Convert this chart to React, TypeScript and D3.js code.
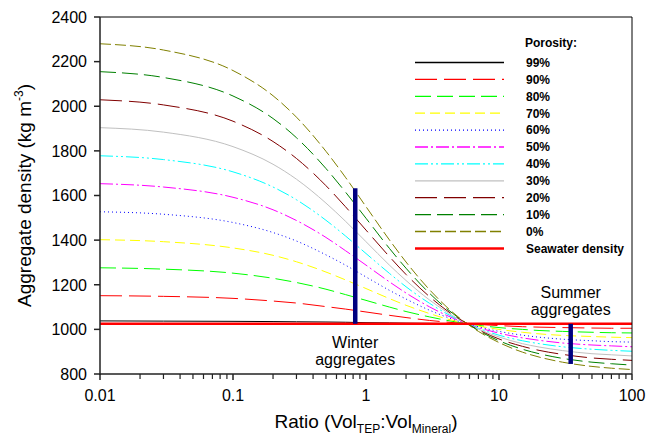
import React from "react";
import * as d3 from "d3";

// ---- Data ----
const ratios = [0.01, 0.03, 0.1, 0.2, 0.3, 0.5, 0.7, 1, 1.5, 2, 3, 4, 5, 7, 10, 15, 20, 30, 50, 70, 100];

const dens99 = [1038, 1037, 1036, 1035, 1034, 1033, 1032, 1030, 1029, 1028, 1027, 1026, 1025, 1025, 1024, 1024, 1024, 1023, 1023, 1023, 1023];
const dens90 = [1151, 1148, 1139, 1127, 1118, 1102, 1091, 1078, 1063, 1053, 1040, 1033, 1028, 1022, 1017, 1012, 1010, 1008, 1006, 1005, 1005];
const dens80 = [1276, 1270, 1252, 1229, 1210, 1180, 1156, 1130, 1100, 1080, 1056, 1041, 1031, 1018, 1008, 1000, 995, 991, 987, 985, 984];
const dens70 = [1402, 1393, 1365, 1332, 1303, 1257, 1222, 1183, 1138, 1108, 1071, 1048, 1034, 1015, 1000, 987, 980, 973, 968, 965, 963];
const dens60 = [1527, 1516, 1479, 1434, 1396, 1334, 1288, 1235, 1175, 1136, 1086, 1056, 1036, 1012, 991, 974, 965, 956, 949, 945, 943];
const dens50 = [1653, 1638, 1592, 1536, 1488, 1412, 1353, 1288, 1213, 1163, 1101, 1064, 1039, 1008, 983, 962, 951, 939, 930, 926, 922];
const dens40 = [1778, 1761, 1706, 1638, 1581, 1489, 1419, 1340, 1251, 1191, 1117, 1072, 1042, 1005, 974, 949, 936, 922, 911, 906, 902];
const dens30 = [1904, 1884, 1819, 1740, 1673, 1566, 1485, 1393, 1288, 1219, 1132, 1080, 1045, 1001, 966, 936, 921, 905, 891, 886, 881];
const dens20 = [2029, 2006, 1933, 1842, 1766, 1644, 1550, 1445, 1326, 1246, 1147, 1087, 1048, 998, 957, 924, 906, 888, 872, 866, 861];
const dens10 = [2155, 2129, 2046, 1945, 1859, 1721, 1616, 1498, 1363, 1274, 1162, 1095, 1051, 995, 949, 911, 891, 870, 853, 846, 840];
const dens0 = [2280, 2252, 2160, 2047, 1951, 1798, 1682, 1550, 1401, 1302, 1178, 1103, 1053, 991, 941, 898, 876, 853, 834, 826, 820];

const porosityLabels = ["99%", "90%", "80%", "70%", "60%", "50%", "40%", "30%", "20%", "10%", "0%"];
const seawaterLabel = "Seawater density";
const seawaterDensity = 1025;

const yTicks = [800, 1000, 1200, 1400, 1600, 1800, 2000, 2200, 2400];
const xMajorTicks = [0.01, 0.1, 1, 10, 100];
const xTickLabels = ["0.01", "0.1", "1", "10", "100"];

const winterRatio = 0.83;
const winterRange = [1025, 1632];
const summerRatio = 34.6;
const summerRange = [1025, 845];

// ---- Styles ----
const seriesData = [dens99, dens90, dens80, dens70, dens60, dens50, dens40, dens30, dens20, dens10, dens0];
const seriesStyles = [
  { color: "#000000", dash: "none" },
  { color: "#ff0000", dash: "22,7" },
  { color: "#00ff00", dash: "16,6" },
  { color: "#ffff00", dash: "10,5" },
  { color: "#0000ff", dash: "1,3" },
  { color: "#ff00ff", dash: "13,3,2,3" },
  { color: "#00ffff", dash: "13,3,2,3,2,3" },
  { color: "#c0c0c0", dash: "none" },
  { color: "#800000", dash: "22,7" },
  { color: "#008000", dash: "16,6" },
  { color: "#808000", dash: "11,4" },
];

const W = 651;
const H = 442;
const L = 100, R = 632, T = 17, B = 374;
const FONT = "'Liberation Sans', Arial, Helvetica, sans-serif";

export default function App() {
  const x = d3.scaleLog().domain([0.01, 100]).range([L, R]);
  const y = d3.scaleLinear().domain([800, 2400]).range([B, T]);
  const line = d3
    .line<number>()
    .x((_, i) => x(ratios[i]))
    .y((d) => y(d))
    .curve(d3.curveMonotoneX);

  const minorTicks: number[] = [];
  for (let e = -2; e < 2; e++) {
    for (let k = 2; k <= 9; k++) minorTicks.push(k * Math.pow(10, e));
  }

  const legendX1 = 415, legendX2 = 504, legendTextX = 526;
  const legendY0 = 62.5, legendStep = 16.9;

  return (
    <svg width={W} height={H} style={{ position: "absolute", left: 0, top: 0, background: "#fff" }} fontFamily={FONT}>
      <defs>
        <clipPath id="plot">
          <rect x={L} y={T} width={R - L} height={B - T} />
        </clipPath>
      </defs>
      <rect x={0} y={0} width={W} height={H} fill="#fff" />

      {/* curves */}
      <g clipPath="url(#plot)">
        {seriesData.map((s, i) => (
          <path
            key={i}
            d={line(s) || ""}
            fill="none"
            stroke={seriesStyles[i].color}
            strokeWidth={1}
            strokeDasharray={seriesStyles[i].dash}
          />
        ))}
        <line x1={L} x2={R} y1={y(seawaterDensity)} y2={y(seawaterDensity)} stroke="#ff0000" strokeWidth={2.5} />
      </g>

      {/* bars */}
      <line x1={x(winterRatio)} x2={x(winterRatio)} y1={y(winterRange[0])} y2={y(winterRange[1])} stroke="#000080" strokeWidth={4.5} />
      <line x1={x(summerRatio)} x2={x(summerRatio)} y1={y(summerRange[0])} y2={y(summerRange[1])} stroke="#000080" strokeWidth={4.5} />

      {/* annotations */}
      <text x={x(winterRatio)} y={348} textAnchor="middle" fontSize={16} fill="#000">Winter</text>
      <text x={x(winterRatio)} y={365} textAnchor="middle" fontSize={16} fill="#000">aggregates</text>
      <text x={x(summerRatio)} y={298} textAnchor="middle" fontSize={16} fill="#000">Summer</text>
      <text x={x(summerRatio)} y={315} textAnchor="middle" fontSize={16} fill="#000">aggregates</text>

      {/* frame */}
      <line x1={L} x2={R} y1={T} y2={T} stroke="#000" strokeWidth={1} />
      <line x1={R} x2={R} y1={T} y2={B} stroke="#000" strokeWidth={1} />
      <line x1={L} x2={L} y1={T} y2={B + 1} stroke="#222" strokeWidth={1.5} />
      <line x1={L} x2={R} y1={B} y2={B} stroke="#222" strokeWidth={1.5} />

      {/* y axis ticks */}
      {yTicks.map((t) => (
        <g key={t}>
          <line x1={L - 6} x2={L} y1={y(t)} y2={y(t)} stroke="#222" strokeWidth={1.5} />
          <text x={87} y={y(t)} dy="0.36em" textAnchor="end" fontSize={16} fill="#000">{t}</text>
        </g>
      ))}

      {/* x axis ticks */}
      {xMajorTicks.map((t, i) => (
        <g key={t}>
          <line x1={x(t)} x2={x(t)} y1={B} y2={B + 6} stroke="#222" strokeWidth={1.5} />
          <text x={x(t)} y={401} textAnchor="middle" fontSize={16} fill="#000">{xTickLabels[i]}</text>
        </g>
      ))}
      {minorTicks.map((t) => (
        <line key={"m" + t} x1={x(t)} x2={x(t)} y1={B} y2={B + 5} stroke="#222" strokeWidth={1.2} />
      ))}

      {/* axis titles */}
      <text x={(L + R) / 2} y={428} textAnchor="middle" fontSize={19} fill="#000">
        Ratio (Vol
        <tspan fontSize={12} dy={5}>TEP</tspan>
        <tspan dy={-5}>:Vol</tspan>
        <tspan fontSize={12} dy={5}>Mineral</tspan>
        <tspan dy={-5}>)</tspan>
      </text>
      <text transform={`translate(31,${(T + B) / 2}) rotate(-90)`} textAnchor="middle" fontSize={19} fill="#000">
        Aggregate density (kg m
        <tspan fontSize={12} dy={-8}>-3</tspan>
        <tspan dy={8}>)</tspan>
      </text>

      {/* legend */}
      <text x={legendTextX - 1} y={43} dy="0.36em" fontSize={12} fontWeight="bold" fill="#000">Porosity:</text>
      {porosityLabels.map((lab, i) => {
        const yy = legendY0 + i * legendStep;
        return (
          <g key={lab}>
            <line x1={legendX1} x2={legendX2} y1={yy} y2={yy} stroke={seriesStyles[i].color} strokeWidth={1.3} strokeDasharray={seriesStyles[i].dash} />
            <text x={legendTextX} y={yy} dy="0.36em" fontSize={12} fontWeight="bold" fill="#000">{lab}</text>
          </g>
        );
      })}
      {(() => {
        const yy = legendY0 + porosityLabels.length * legendStep;
        return (
          <g>
            <line x1={legendX1} x2={legendX2} y1={yy} y2={yy} stroke="#ff0000" strokeWidth={2.5} />
            <text x={legendTextX} y={yy} dy="0.36em" fontSize={12} fontWeight="bold" fill="#000">{seawaterLabel}</text>
          </g>
        );
      })()}
    </svg>
  );
}
